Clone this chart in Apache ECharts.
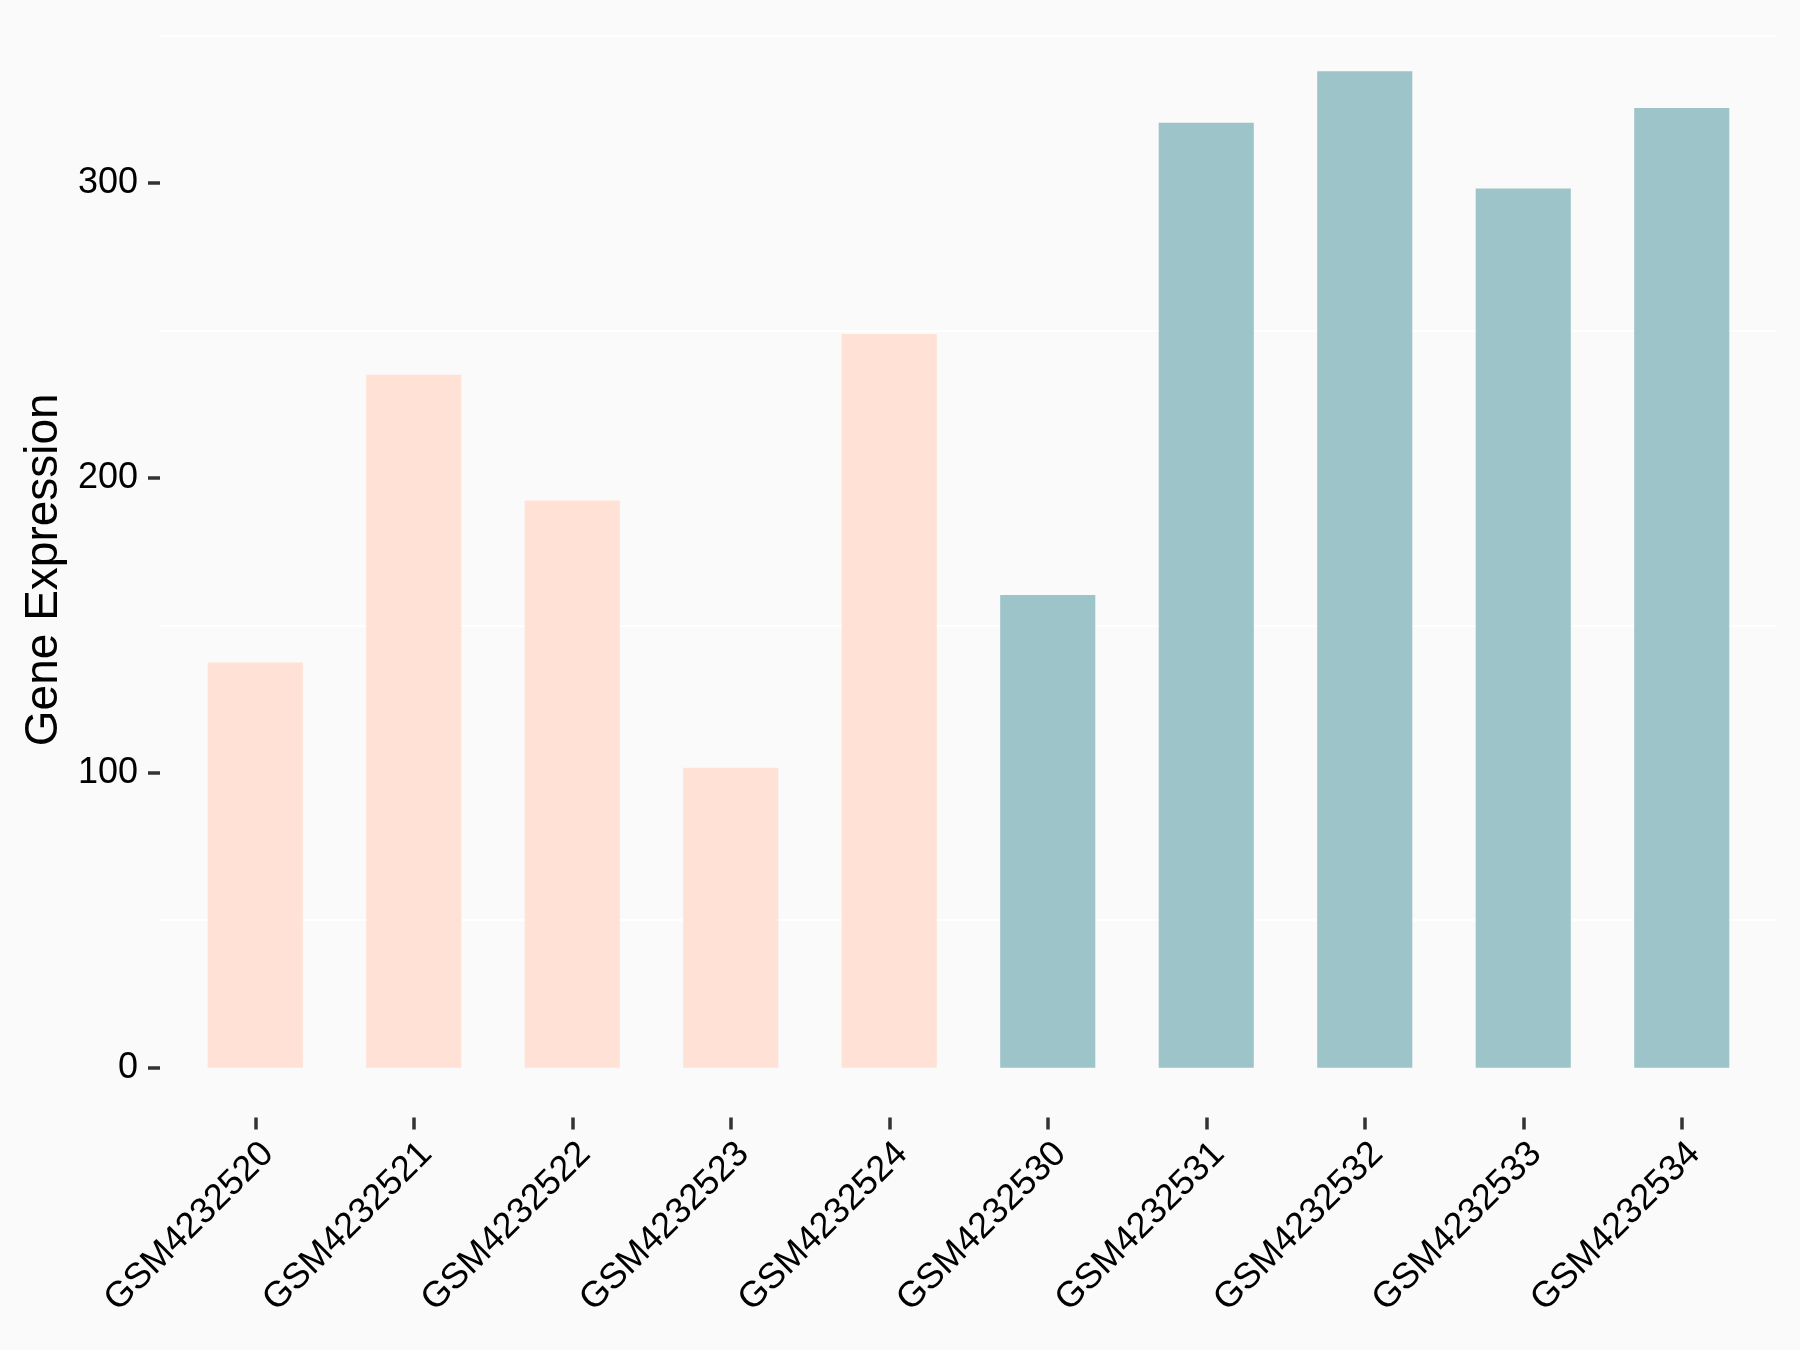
<!DOCTYPE html>
<html>
<head>
<meta charset="utf-8">
<script src="https://cdn.jsdelivr.net/npm/echarts@6/dist/echarts.min.js"></script>
<style>
html,body{margin:0;padding:0;background:#FAFAFA;}
#chart{width:1800px;height:1350px;}
</style>
</head>
<body>
<div id="chart"></div>
<script>
const samples = ["GSM4232520","GSM4232521","GSM4232522","GSM4232523","GSM4232524","GSM4232530","GSM4232531","GSM4232532","GSM4232533","GSM4232534"];
const expression = [137.4, 235.0, 192.3, 101.7, 248.8, 160.3, 320.4, 337.9, 298.1, 325.4];
const groups = ["A","A","A","A","A","B","B","B","B","B"];
const groupColors = {A: "#FFE1D6", B: "#9DC4C8"};
const yTicks = [0, 100, 200, 300];
const yRange = [-16.9, 354.6];
const gridValues = [50, 350, 100];
const yTitle = "Gene Expression";

const chart = echarts.init(document.getElementById('chart'), null, {renderer: 'canvas'});
const font = "Liberation Sans, Arial, sans-serif";

chart.setOption({
  backgroundColor: "#FAFAFA",
  animation: false,
  grid: [
    {left: 176, right: 39, top: 22, bottom: 232.5},
    {left: 160, right: 23, top: 35.5, bottom: 429.8}
  ],
  xAxis: [
    {
      type: 'category', gridIndex: 0, data: samples, position: 'bottom',
      axisLine: {show: false, onZero: false},
      axisTick: {show: true, inside: false, alignWithLabel: true, length: 12, lineStyle: {color: '#333333', width: 3.5}},
      axisLabel: {rotate: 45, margin: 18, fontSize: 36, color: '#000000', fontFamily: font, align: 'right', verticalAlign: 'top', interval: 0},
      splitLine: {show: false}
    },
    {
      type: 'value', gridIndex: 1, show: false, min: 0, max: 1, splitLine: {show: false}
    }
  ],
  yAxis: [
    {
      type: 'value', gridIndex: 0, min: yRange[0], max: yRange[1], offset: 16,
      name: yTitle, nameLocation: 'middle', nameGap: 93, nameRotate: 90,
      nameTextStyle: {fontSize: 46, color: '#000000', fontFamily: font},
      axisLine: {show: false},
      axisTick: {show: true, length: 12, customValues: yTicks, lineStyle: {color: '#333333', width: 3.5}},
      axisLabel: {customValues: yTicks, margin: 22, fontSize: 36, color: '#000000', fontFamily: font},
      splitLine: {show: false}
    },
    {
      type: 'value', gridIndex: 1, min: gridValues[0], max: gridValues[1], interval: gridValues[2],
      axisLine: {show: false}, axisTick: {show: false}, axisLabel: {show: false},
      splitLine: {show: true, lineStyle: {color: '#FFFFFF', width: 2}}
    }
  ],
  series: [{
    type: 'bar', xAxisIndex: 0, yAxisIndex: 0, barWidth: '60%',
    data: expression.map((v, i) => ({value: v, itemStyle: {color: groupColors[groups[i]]}})),
    z: 5
  }]
});
</script>
</body>
</html>
